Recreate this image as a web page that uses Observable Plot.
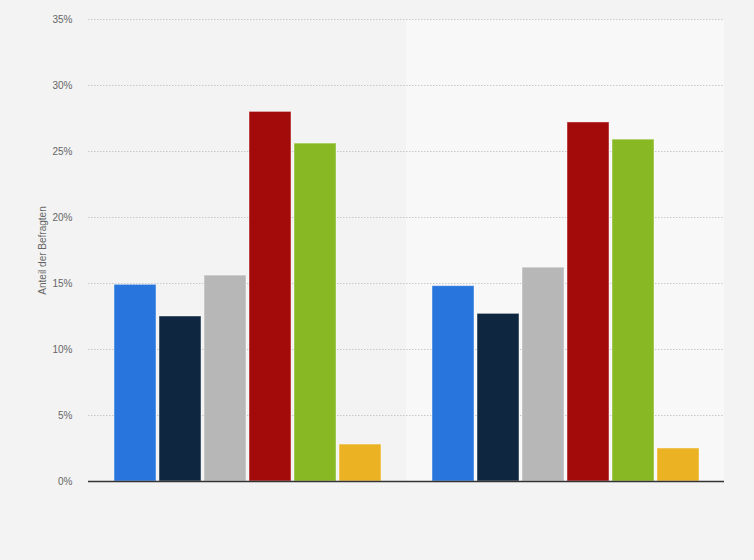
<!DOCTYPE html>
<html>
<head>
<meta charset="utf-8">
<script src="https://cdn.jsdelivr.net/npm/d3@7"></script>
<script src="https://cdn.jsdelivr.net/npm/@observablehq/plot@0.6"></script>
<style>
  html, body { margin: 0; padding: 0; background: #f3f3f3; }
  #chart { width: 754px; height: 560px; }
</style>
</head>
<body>
<div id="chart"></div>
<script>
const groups = ["Gruppe 1", "Gruppe 2"];
const categories = ["Kategorie 1", "Kategorie 2", "Kategorie 3", "Kategorie 4", "Kategorie 5", "Kategorie 6"];
const valuesGroup1 = [14.9, 12.5, 15.6, 28.0, 25.6, 2.8];
const valuesGroup2 = [14.8, 12.7, 16.2, 27.2, 25.9, 2.5];
const colors = ["#2876dd", "#0f2640", "#b7b7b7", "#a30a0a", "#88b924", "#ebb324"];
const yTicks = [0, 5, 10, 15, 20, 25, 30, 35];
const yLabel = "Anteil der Befragten";

const rows = [];
[valuesGroup1, valuesGroup2].forEach((vals, gi) => {
  vals.forEach((v, ci) => rows.push({group: groups[gi], category: categories[ci], value: v}));
});

const chart = Plot.plot({
  width: 754,
  height: 560,
  marginLeft: 88,
  marginRight: 30,
  marginTop: 19,
  marginBottom: 79,
  style: {background: "#f3f3f3", fontFamily: "'Liberation Sans', Arial, sans-serif", fontSize: "10px", color: "#666"},
  fx: {domain: groups, padding: 0, axis: null},
  x: {domain: categories, paddingInner: 0.075, paddingOuter: 0.55, axis: null},
  y: {domain: [0, 35], ticks: yTicks},
  color: {domain: categories, range: colors},
  marks: [
    Plot.rect([groups[1]], {fx: d => d, fill: "#f8f8f8"}),
    Plot.gridY(yTicks, {stroke: "#c8c8c8", strokeOpacity: 1, strokeDasharray: "1.5,1.5"}),
    Plot.axisY(yTicks, {tickSize: 0, tickPadding: 16, tickFormat: d => d + "%", label: yLabel, labelAnchor: "center", labelArrow: "none", labelOffset: 50, fill: "#666"}),
    Plot.barY(rows, {fx: "group", x: "category", y: "value", fill: "category", stroke: "#ffffff", strokeWidth: 1, strokeOpacity: 0.45}),
    Plot.ruleY([0], {stroke: "#333", strokeWidth: 1.5})
  ]
});
document.getElementById("chart").appendChild(chart);
</script>
</body>
</html>
